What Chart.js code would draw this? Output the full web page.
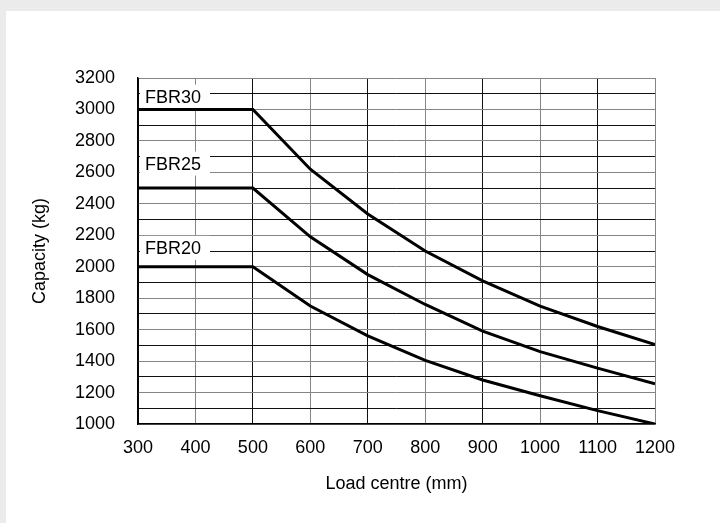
<!DOCTYPE html>
<html>
<head>
<meta charset="utf-8">
<script src="https://cdn.jsdelivr.net/npm/chart.js@4.4.1/dist/chart.umd.min.js"></script>
<style>
    html, body { margin: 0; padding: 0; }
    body { width: 720px; height: 523px; background: #ebebeb; position: relative; overflow: hidden; }
    #panel { position: absolute; left: 6px; top: 11px; width: 714px; height: 512px; background: #fff; }
    #panel canvas { display: block; }
</style>
</head>
<body>
<div id="panel"><canvas id="capChart" width="714" height="512"></canvas></div>
<script>
// data
const loadCentre = [300, 400, 500, 600, 700, 800, 900, 1000, 1100, 1200];
const fbr30 = [3000, 3000, 3000, 2620, 2335, 2100, 1910, 1750, 1620, 1505];
const fbr25 = [2500, 2500, 2500, 2190, 1950, 1760, 1590, 1460, 1355, 1255];
const fbr20 = [2000, 2000, 2000, 1750, 1560, 1405, 1280, 1180, 1085, 1000];
const seriesNames = ['FBR30', 'FBR25', 'FBR20'];
const labelLevels = [3082, 2656, 2120];
const yTicks = [1000, 1200, 1400, 1600, 1800, 2000, 2200, 2400, 2600, 2800, 3000, 3200];

const FONT = "'Liberation Sans', Arial, Helvetica, sans-serif";

function toPoints(values) {
    return values.map((v, i) => ({ x: loadCentre[i], y: v }));
}

// white boxes with the model names, painted over the grid
const seriesLabels = {
    id: 'seriesLabels',
    beforeDatasetsDraw(chart) {
        const { ctx, chartArea, scales } = chart;
        ctx.save();
        ctx.font = '18px ' + FONT;
        ctx.textBaseline = 'middle';
        ctx.textAlign = 'left';
        seriesNames.forEach((name, i) => {
            const y = scales.y.getPixelForValue(labelLevels[i]);
            ctx.fillStyle = '#fff';
            ctx.fillRect(chartArea.left + 2, y - 12, 70, 24);
            ctx.fillStyle = '#000';
            ctx.fillText(name, chartArea.left + 7, y + 1);
        });
        ctx.restore();
    }
};

const lineStyle = {
    borderColor: '#000',
    borderWidth: 3,
    pointRadius: 0,
    tension: 0,
    fill: false,
    borderJoinStyle: 'miter',
    borderCapStyle: 'butt'
};

new Chart(document.getElementById('capChart').getContext('2d'), {
    type: 'line',
    data: {
        datasets: [
            { label: 'FBR30', data: toPoints(fbr30), ...lineStyle },
            { label: 'FBR25', data: toPoints(fbr25), ...lineStyle },
            { label: 'FBR20', data: toPoints(fbr20), ...lineStyle }
        ]
    },
    options: {
        responsive: false,
        animation: false,
        layout: { padding: { top: 67, right: 65, left: 0, bottom: 0 } },
        plugins: {
            legend: { display: false },
            tooltip: { enabled: false }
        },
        scales: {
            x: {
                type: 'linear',
                min: 300,
                max: 1200,
                afterFit: s => { s.height = 99; },
                afterBuildTicks: s => { s.ticks = loadCentre.map(v => ({ value: v })); },
                grid: {
                    drawTicks: false,
                    lineWidth: 1,
                    color: c => (c.index % 2 === 1 ? '#858585' : '#111')
                },
                border: { display: true, color: '#000', width: 1.5 },
                ticks: {
                    color: '#000',
                    padding: 13,
                    maxRotation: 0,
                    autoSkip: false,
                    font: { family: FONT, size: 18 },
                    callback: v => String(v)
                },
                title: {
                    display: true,
                    text: 'Load centre (mm)',
                    color: '#000',
                    font: { family: FONT, size: 18 },
                    padding: { top: 0, bottom: 28 }
                }
            },
            y: {
                type: 'linear',
                min: 1000,
                max: 3200,
                afterFit: s => { s.width = 132; },
                afterBuildTicks: s => {
                    const ticks = [];
                    for (let v = 1000; v <= 3200; v += 100) ticks.push({ value: v });
                    s.ticks = ticks;
                },
                grid: {
                    drawTicks: false,
                    lineWidth: 1,
                    color: c => (c.tick && c.tick.value % 200 === 0 ? '#858585' : '#111')
                },
                border: { display: true, color: '#000', width: 1.5 },
                ticks: {
                    color: '#000',
                    padding: 23,
                    autoSkip: false,
                    font: { family: FONT, size: 18 },
                    callback: v => (yTicks.includes(v) ? String(v) : '')
                },
                title: {
                    display: true,
                    text: 'Capacity (kg)',
                    color: '#000',
                    font: { family: FONT, size: 18 },
                    padding: { top: 23, bottom: 0 }
                }
            }
        }
    },
    plugins: [seriesLabels]
});
</script>
</body>
</html>
